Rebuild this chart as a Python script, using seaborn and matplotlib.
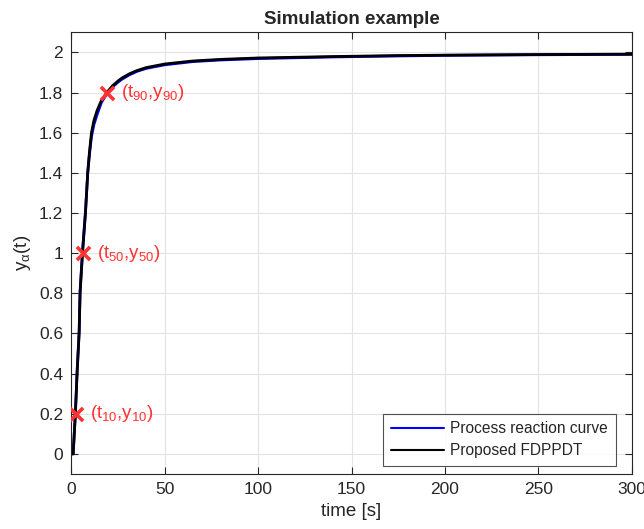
import numpy as np
import pandas as pd
import matplotlib
matplotlib.use("Agg")
import matplotlib.pyplot as plt
import seaborn as sns

# values
time_s = [0, 0.9, 2.1, 3.0, 4.1, 4.6, 5.9, 7.5, 8.7, 9.6, 10.7, 12.0, 13.7, 16.0, 19.0,
          22.0, 25.0, 27.0, 31.0, 35.0, 40.0, 50.0, 65.0, 80.0, 100.0, 140.0, 175.0,
          200.0, 250.0, 300.0]
y_process = [0, 0, 0.21, 0.41, 0.61, 0.81, 1.01, 1.21, 1.40, 1.49, 1.58, 1.64, 1.69, 1.75,
             1.795, 1.828, 1.852, 1.866, 1.888, 1.905, 1.920, 1.938, 1.954, 1.962, 1.969,
             1.977, 1.982, 1.985, 1.988, 1.990]
y_fdppdt = [0, 0, 0.20, 0.40, 0.60, 0.80, 1.00, 1.20, 1.40, 1.50, 1.60, 1.66, 1.71, 1.76,
            1.80, 1.834, 1.858, 1.872, 1.893, 1.909, 1.924, 1.942, 1.957, 1.965, 1.972,
            1.979, 1.984, 1.986, 1.989, 1.991]

mark_t = [2.5, 6.0, 19.1]
mark_y = [0.2, 1.0, 1.8]
mark_labels = [r"$(t_{10}{,}y_{10})$", r"$(t_{50}{,}y_{50})$", r"$(t_{90}{,}y_{90})$"]

series_names = ["Process reaction curve", "Proposed FDPPDT"]

df = pd.DataFrame({
    "time": time_s * 2,
    "y": y_process + y_fdppdt,
    "curve": [series_names[0]] * len(time_s) + [series_names[1]] * len(time_s),
})

sns.set_style("ticks")
plt.rcParams["font.family"] = ["Liberation Sans", "DejaVu Sans"]
plt.rcParams["mathtext.default"] = "regular"

fig = plt.figure(figsize=(6.44, 5.29), dpi=100)
ax = fig.add_axes([0.111, 0.104, 0.870, 0.835])

sns.lineplot(data=df, x="time", y="y", hue="curve", palette=["#0000FF", "#000000"],
             linewidth=2.0, ax=ax, sort=False, estimator=None)

red = "#FF3333"
ax.scatter(mark_t, mark_y, marker="x", s=90, color=red, linewidths=2.6, zorder=5)
for tx, ty, lab in zip(mark_t, mark_y, mark_labels):
    ax.annotate(lab, (tx, ty), xytext=(10, 0), textcoords="offset points",
                ha="left", va="center", color=red, fontsize=13.5)

ax.set_xlim(0, 300)
ax.set_ylim(-0.1, 2.1)
ax.set_xticks(np.arange(0, 301, 50))
ax.set_yticks(np.round(np.arange(0, 2.01, 0.2), 1))
ax.set_yticklabels(["0", "0.2", "0.4", "0.6", "0.8", "1", "1.2", "1.4", "1.6", "1.8", "2"])
ax.grid(True, color="#E3E3E3", linewidth=0.8)
ax.set_axisbelow(True)
ax.tick_params(direction="in", length=5, top=True, right=True, labelsize=12.5,
               colors="#262626", width=0.8, pad=6)
for sp in ax.spines.values():
    sp.set_visible(True)
    sp.set_color("#262626")
    sp.set_linewidth(0.8)

ax.set_xlabel("time [s]", fontsize=13.5, color="#262626")
ax.set_ylabel(r"$y_\alpha(t)$", fontsize=13.5, color="#262626")
ax.set_title("Simulation example", fontsize=13.5, fontweight="bold", pad=6)

leg = ax.legend(loc="lower right", fontsize=11.2, handlelength=3.4, frameon=True,
                fancybox=False, edgecolor="#262626", borderpad=0.5, labelspacing=0.45,
                handletextpad=0.4, borderaxespad=0.5, bbox_to_anchor=(0.985, 0.0))
leg.get_frame().set_linewidth(0.8)
for lh in leg.get_lines():
    lh.set_linewidth(1.5)

fig.savefig("out.png", dpi=100)
